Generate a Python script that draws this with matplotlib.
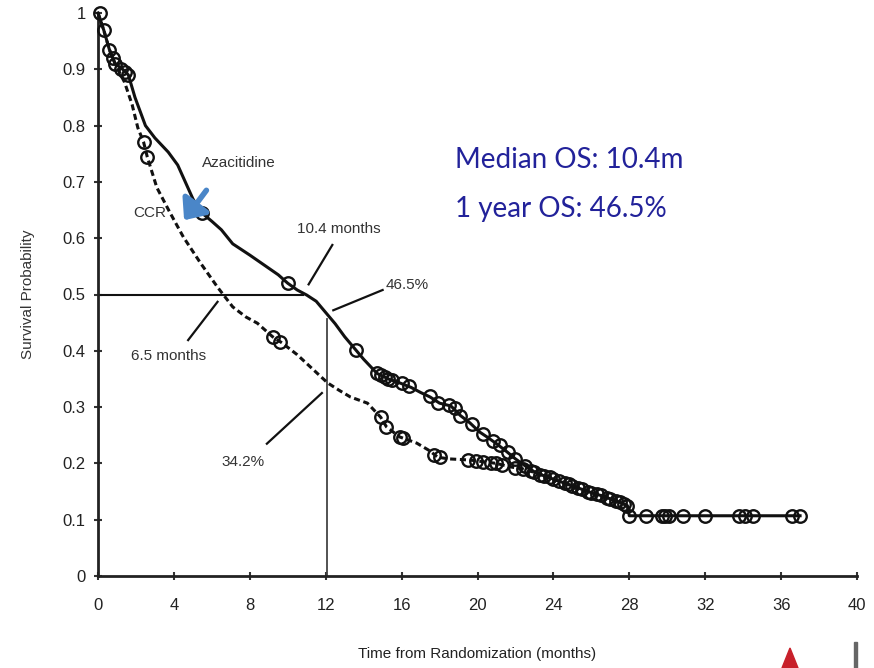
import matplotlib
matplotlib.use("Agg")
import matplotlib.pyplot as plt
from matplotlib.patches import Polygon, Rectangle, FancyArrowPatch

# ---------------- data ----------------
t_aza = [0, 0.3, 0.6, 0.9, 1.3, 1.6, 1.95, 2.5, 3.0, 3.7, 4.2, 4.6, 5.0, 5.4, 6.0,
         6.5, 7.1, 8.0, 8.9, 9.5, 10.0, 10.5, 11.0, 11.5, 12.0, 12.5, 13.0, 13.6, 14.0,
         14.7, 15.3, 15.9, 16.5, 17.0, 17.5, 18.0, 18.6, 19.1, 19.6, 20.1, 20.5, 21.0,
         21.5, 22.0, 22.5, 23.0, 23.5, 24.0, 24.5, 25.0, 25.5, 26.0, 26.5, 27.0, 27.5,
         27.9, 28.0, 37.0]
s_aza = [1.0, 0.97, 0.935, 0.91, 0.90, 0.89, 0.85, 0.80, 0.778, 0.753, 0.73, 0.70, 0.67,
         0.647, 0.63, 0.615, 0.59, 0.57, 0.549, 0.535, 0.52, 0.508, 0.499, 0.488, 0.468,
         0.448, 0.425, 0.401, 0.385, 0.36, 0.35, 0.343, 0.335, 0.326, 0.318, 0.307, 0.302,
         0.285, 0.272, 0.256, 0.247, 0.235, 0.222, 0.208, 0.196, 0.185, 0.178, 0.172,
         0.166, 0.16, 0.154, 0.148, 0.143, 0.137, 0.131, 0.125, 0.107, 0.107]

t_ccr = [0, 0.3, 0.6, 0.9, 1.2, 1.4, 1.8, 2.1, 2.4, 2.6, 3.1, 3.8, 4.5, 5.4, 6.3, 7.1,
         7.8, 8.4, 9.2, 9.7, 10.5, 11.3, 12.1, 12.7, 13.3, 14.2, 14.9, 15.2, 15.9, 16.8,
         17.5, 17.9, 18.5, 19.6, 20.3, 21.0, 21.7, 22.4, 23.1, 24.0, 24.5, 25.0, 25.5,
         26.0, 26.5, 27.0, 27.5, 27.9, 28.0]
s_ccr = [1.0, 0.97, 0.935, 0.91, 0.89, 0.877, 0.837, 0.796, 0.771, 0.744, 0.69, 0.645,
         0.602, 0.556, 0.513, 0.478, 0.46, 0.449, 0.425, 0.414, 0.393, 0.368, 0.343, 0.33,
         0.318, 0.307, 0.282, 0.265, 0.247, 0.236, 0.222, 0.211, 0.208, 0.206, 0.203, 0.2,
         0.194, 0.19, 0.183, 0.172, 0.166, 0.16, 0.154, 0.148, 0.143, 0.137, 0.131, 0.125,
         0.107]

cens_aza_t = [0.1, 0.6, 0.9, 1.2, 1.4, 1.6, 5.5, 10.0, 13.6, 14.7, 14.9, 15.1, 15.3, 15.5,
              16.0, 16.4, 17.5, 17.9, 18.5, 18.8, 19.1, 19.7, 20.3, 20.8, 21.2, 21.6, 22.0,
              22.5, 23.0, 23.5, 24.0, 24.6, 25.0, 25.5, 26.0, 26.5, 27.0, 27.5, 27.9, 28.0,
              28.9, 29.7, 29.9, 30.1, 30.85, 32.0, 33.8, 34.1, 34.5, 36.6, 37.0]
cens_aza_s = [1.0, 0.935, 0.91, 0.90, 0.895, 0.89, 0.645, 0.52, 0.401, 0.36, 0.357, 0.354,
              0.35, 0.348, 0.343, 0.337, 0.32, 0.308, 0.303, 0.298, 0.285, 0.27, 0.252, 0.24,
              0.232, 0.22, 0.208, 0.196, 0.185, 0.178, 0.172, 0.165, 0.16, 0.154, 0.148,
              0.143, 0.137, 0.131, 0.125, 0.107, 0.107, 0.107, 0.107, 0.107, 0.107, 0.107,
              0.107, 0.107, 0.107, 0.107, 0.107]
cens_ccr_t = [0.3, 0.8, 2.4, 2.6, 9.2, 9.6, 14.9, 15.2, 15.9, 16.1, 17.7, 18.0, 19.5, 19.9,
              20.3, 20.7, 21.0, 21.3, 22.0, 22.4, 22.8, 23.3, 23.8, 24.3, 24.8, 25.3, 25.8,
              26.3, 26.8, 27.3, 27.7]
cens_ccr_s = [0.97, 0.92, 0.771, 0.744, 0.425, 0.416, 0.282, 0.265, 0.247, 0.245, 0.215,
              0.211, 0.206, 0.205, 0.203, 0.2, 0.2, 0.198, 0.192, 0.19, 0.186, 0.18, 0.175,
              0.169, 0.163, 0.157, 0.15, 0.145, 0.139, 0.133, 0.128]

x_ticks = [0, 4, 8, 12, 16, 20, 24, 28, 32, 36, 40]
y_ticks = [0, 0.1, 0.2, 0.3, 0.4, 0.5, 0.6, 0.7, 0.8, 0.9, 1.0]
y_tick_labels = ["0", "0.1", "0.2", "0.3", "0.4", "0.5", "0.6", "0.7", "0.8", "0.9", "1"]

# ---------------- figure ----------------
NARROW = ["Liberation Sans Narrow", "Liberation Sans", "DejaVu Sans"]
fig = plt.figure(figsize=(8.74, 6.68), dpi=100)
ax = fig.add_axes([98 / 874, 1 - 576 / 668, (857 - 98) / 874, (576 - 13) / 668])
ax.set_xlim(0, 40)
ax.set_ylim(0, 1)

ink = "#111111"
ax.plot(t_aza, s_aza, color=ink, lw=2.2, solid_joinstyle="round", zorder=3, clip_on=False)
ax.plot(t_ccr, s_ccr, color=ink, lw=2.2, ls=(0, (2.0, 1.2)), zorder=3, clip_on=False)
ax.plot(cens_aza_t, cens_aza_s, ls="none", marker="o", ms=9, mfc="none", mec=ink,
        mew=1.7, zorder=4, clip_on=False)
ax.plot(cens_ccr_t, cens_ccr_s, ls="none", marker="o", ms=9, mfc="none", mec=ink,
        mew=1.7, zorder=4, clip_on=False)

# reference lines
ax.plot([0, 10.8], [0.5, 0.5], color=ink, lw=1.5, zorder=2)
ax.plot([12.05, 12.05], [0, 0.457], color="#444444", lw=1.3, zorder=2)

# spines / ticks
for s in ["top", "right"]:
    ax.spines[s].set_visible(False)
for s in ["left", "bottom"]:
    ax.spines[s].set_linewidth(2.0)
    ax.spines[s].set_color("#222222")
ax.set_xticks(x_ticks)
ax.set_yticks(y_ticks)
ax.set_yticklabels(y_tick_labels)
ax.tick_params(axis="both", direction="inout", length=6, width=1.5, color="#333333",
               labelsize=12, labelcolor="#222222")
ax.tick_params(axis="x", pad=13)
ax.tick_params(axis="y", pad=6)
for lab in ax.get_xticklabels() + ax.get_yticklabels():
    lab.set_family(NARROW)

ax.set_ylabel("Survival Probability", fontsize=11, family=NARROW, color="#333333",
              labelpad=20)
ax.set_xlabel("Time from Randomization (months)", fontsize=11, family=NARROW,
              color="#222222", labelpad=24)

# annotations
tk = dict(fontsize=11, family=NARROW, color="#333333", ha="center", va="center")
ax.text(7.4, 0.734, "Azacitidine", **tk)
ax.text(2.75, 0.645, "CCR", **tk)
ax.text(12.7, 0.617, "10.4 months", **tk)
ax.text(16.3, 0.517, "46.5%", **tk)
ax.text(3.7, 0.391, "6.5 months", **tk)
ax.text(7.65, 0.202, "34.2%", **tk)

lk = dict(color=ink, lw=1.6)
ax.plot([11.1, 12.35], [0.518, 0.588], **lk)
ax.plot([12.4, 15.0], [0.472, 0.508], **lk)
ax.plot([6.3, 4.75], [0.487, 0.419], **lk)
ax.plot([11.8, 8.9], [0.325, 0.235], **lk)

arrow = FancyArrowPatch((5.8, 0.689), (4.45, 0.628), arrowstyle="-|>,head_length=7,head_width=6",
                        color="#4a86c8", lw=4, mutation_scale=1.6, zorder=5)
ax.add_patch(arrow)

# blue summary text
fig.text(455 / 874, 1 - 160 / 668, "Median OS: 10.4m", fontsize=20, color="#22229a",
         family=["Lato", "DejaVu Sans"], ha="left", va="center")
fig.text(455 / 874, 1 - 209 / 668, "1 year OS: 46.5%", fontsize=20, color="#22229a",
         family=["Lato", "DejaVu Sans"], ha="left", va="center")

# slide decorations
fig.patches.append(Polygon([[782 / 874, 0], [798 / 874, 0], [790 / 874, 20 / 668]],
                           closed=True, transform=fig.transFigure, color="#c8202a"))
fig.patches.append(Rectangle((854 / 874, 0), 3 / 874, 26 / 668, transform=fig.transFigure,
                             color="#666666"))

fig.savefig("out.png", dpi=100)
